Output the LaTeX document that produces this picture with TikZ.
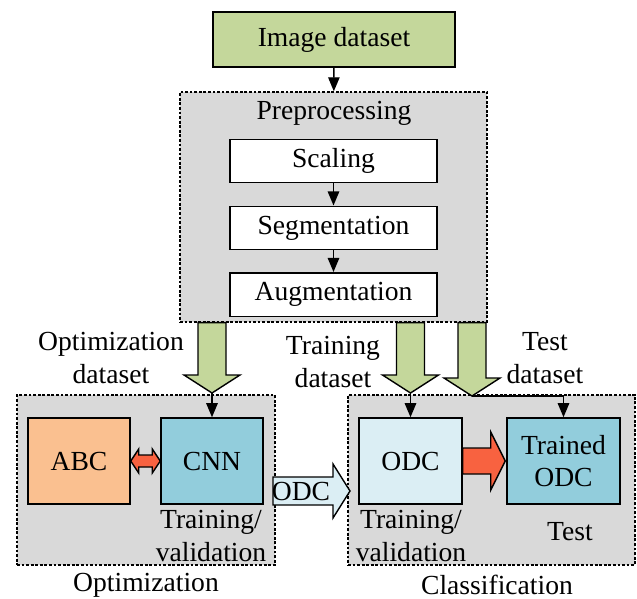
\documentclass[tikz,border=0pt]{standalone}
\usepackage{fontspec}
\setmainfont{Liberation Serif}
\usetikzlibrary{arrows.meta,calc}

\definecolor{boxgreen}{HTML}{C4D79B}
\definecolor{boxorange}{HTML}{FAC090}
\definecolor{boxblue}{HTML}{92CDDC}
\definecolor{boxpale}{HTML}{DBEEF4}
\definecolor{boxred}{HTML}{F86240}
\definecolor{boxgray}{HTML}{D9D9D9}

\tikzset{
  box/.style={draw, line width=0.85pt, inner sep=0pt, align=center},
  group/.style={draw, line width=0.8pt, dash pattern=on 1.6pt off 1pt, fill=boxgray, inner sep=0pt},
  lbl/.style={inner sep=0pt, align=center},
  arr/.style={line width=0.8pt, -{Triangle[length=8pt,width=6.5pt]}},
  fatgreen/.style={draw, line width=0.8pt, fill=boxgreen, line join=miter},
  fatred/.style={draw, line width=0.8pt, fill=boxred, line join=miter},
  fatpale/.style={draw, line width=0.8pt, fill=boxpale, line join=miter}
}

% fat arrow pointing down, from #1 (top centre) to #2 (tip)
\newcommand{\fatdown}[2]{%
  \draw[fatgreen] ($(#1)+(-14,0)$) -- ($(#2)+(-14,-18)$) -- ($(#2)+(-28,-18)$) -- (#2)
    -- ($(#2)+(28,-18)$) -- ($(#2)+(14,-18)$) -- ($(#1)+(14,0)$) -- cycle;}

\begin{document}
\begin{tikzpicture}[x=0.02cm, y=-0.02cm]
                \useasboundingbox (0,0) rectangle (637,599);
                {\fontsize{15.7}{18.7}\selectfont

                % Drawing group boxes
                \node[group, minimum width=6.14cm, minimum height=4.6cm] (prep) at (333.5,207) {};
                \node[group, minimum width=5.16cm, minimum height=3.4cm] (opt) at (146,480) {};
                \node[group, minimum width=5.74cm, minimum height=3.4cm] (cls) at (491.5,480) {};

                % Drawing image dataset
                \node[box, fill=boxgreen, minimum width=4.84cm, minimum height=1.1cm] (img) at (334,39.5) {Image dataset};

                % Drawing preprocessing steps
                \node[lbl] (preplbl) at (334,113) {Preprocessing};
                \node[box, fill=white, minimum width=4.14cm, minimum height=0.87cm] (scale) at (333.5,161) {Scaling};
                \node[box, fill=white, minimum width=4.14cm, minimum height=0.87cm] (segm) at (333.5,228) {Segmentation};
                \node[box, fill=white, minimum width=4.14cm, minimum height=0.87cm] (augm) at (333.5,294.5) {Augmentation};

                % Drawing optimization part
                \node[box, fill=boxorange, minimum width=2.04cm, minimum height=1.72cm] (abc) at (79,461) {ABC};
                \node[box, fill=boxblue, minimum width=2.04cm, minimum height=1.72cm] (cnn) at (212,461) {CNN};
                \node[lbl] (cnnlbl) at (211,536) {Training/\\validation};
                \node[lbl] (optname) at (146,585) {Optimization};

                % Drawing classification part
                \node[box, fill=boxpale, minimum width=2.06cm, minimum height=1.72cm] (odc) at (410.5,461) {ODC};
                \node[box, fill=boxblue, minimum width=2.26cm, minimum height=1.72cm] (trained) at (563.5,461) {Trained\\ODC};
                \node[lbl] (odclbl) at (411,536) {Training/\\validation};
                \node[lbl] (testlbl) at (570,532) {Test};
                \node[lbl] (clsname) at (497,585) {Classification};

                % Marking dataset labels
                \node[lbl] (optdata) at (111,358) {Optimization\\dataset};
                \node[lbl] (traindata) at (333,362) {Training\\dataset};
                \node[lbl] (testdata) at (545,358) {Test\\dataset};

                % Drawing thin arrows
                \draw[arr] (img) -- (prep);
                \draw[arr] (scale) -- (segm);
                \draw[arr] (segm) -- (augm);

                % Drawing fat dataset arrows
                \coordinate (optin) at (212,393);
                \coordinate (trainin) at (410.5,393);
                \coordinate (testin) at (472,396);
                \fatdown{prep.south -| optin}{optin}
                \fatdown{prep.south -| trainin}{trainin}
                \fatdown{prep.south -| testin}{testin}
                \draw[arr] (optin) -- (cnn);
                \draw[arr] (trainin) -- (odc);
                \draw[arr] (testin) -| (trained);

                % Drawing ABC <-> CNN
                \draw[fatred] (abc.east) -- ++(8,-12) -- ++(0,6) -- ($(cnn.west)+(-8,-6)$) -- ++(0,-6)
                  -- (cnn.west) -- ++(-8,12) -- ++(0,-6) -- ($(abc.east)+(8,6)$) -- ++(0,6) -- cycle;

                % Drawing ODC -> trained ODC
                \draw[fatred] ($(odc.east)+(0,-13)$) -- ++(28,0) -- ++(0,-16) -- ($(trained.west)+(-1,0)$)
                  -- ($(odc.east)+(28,29)$) -- ++(0,-16) -- ++(-28,0) -- cycle;

                % Drawing ODC hand-over arrow
                \coordinate (odctail) at (273,491);
                \coordinate (odctip) at (350,491);
                \draw[fatpale] ($(odctail)+(0,-14)$) -- ($(odctip)+(-17,-14)$) -- ($(odctip)+(-17,-27)$) -- (odctip)
                  -- ($(odctip)+(-17,27)$) -- ($(odctip)+(-17,14)$) -- ($(odctail)+(0,14)$) -- cycle;
                \node[lbl] (odcarr) at (301,491) {ODC};
                }
\end{tikzpicture}
\end{document}
